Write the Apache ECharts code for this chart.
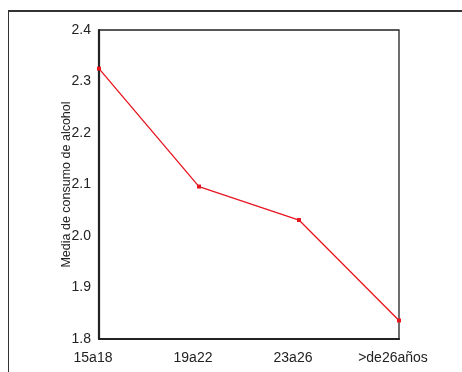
<!DOCTYPE html>
<html><head><meta charset="utf-8">
<script src="https://cdn.jsdelivr.net/npm/echarts@6/dist/echarts.min.js"></script>
<style>html,body{margin:0;padding:0;background:#fff}#c{width:462px;height:372px}</style>
</head><body><div id="c"></div>
<script>
var categories = ['15a18', '19a22', '23a26', '>de26años'];
var values = [2.325, 2.096, 2.031, 1.836];
var yMin = 1.8, yMax = 2.4, yStep = 0.1;

var chart = echarts.init(document.getElementById('c'), null, {renderer: 'canvas'});
var font = 'Liberation Sans, Arial, sans-serif';
chart.setOption({
  animation: false,
  backgroundColor: '#fff',
  grid: {left: 99, right: 63, top: 30, bottom: 33, show: true, borderColor: '#222', borderWidth: 1.3, backgroundColor: 'transparent'},
  graphic: [
    {type: 'line', shape: {x1: 8, y1: 11, x2: 462, y2: 11}, style: {stroke: '#333', lineWidth: 2}, z: -1},
    {type: 'line', shape: {x1: 8.5, y1: 10, x2: 8.5, y2: 372}, style: {stroke: '#333', lineWidth: 1}, z: -1}
  ],
  xAxis: {
    type: 'category', data: categories, boundaryGap: false,
    axisLine: {lineStyle: {color: '#222', width: 2.2}},
    axisTick: {show: false},
    axisLabel: {color: '#222', fontFamily: font, fontSize: 14, margin: 12, interval: 0, padding: [0, 12, 0, 0]},
    splitLine: {show: false}
  },
  yAxis: {
    type: 'value', min: yMin, max: yMax, interval: yStep,
    name: 'Media de consumo de alcohol', nameLocation: 'middle', nameGap: 26, nameMoveOverlap: false,
    nameTextStyle: {color: '#222', fontFamily: font, fontSize: 12.5},
    axisLine: {show: true, lineStyle: {color: '#222', width: 2.2}},
    axisTick: {show: false},
    axisLabel: {color: '#222', fontFamily: font, fontSize: 14, margin: 8, formatter: function(v){return v.toFixed(1);}},
    splitLine: {show: false}
  },
  series: [{
    type: 'line', data: values, symbol: 'rect', symbolSize: 4,
    lineStyle: {color: '#e8141e', width: 1.3},
    itemStyle: {color: '#e8141e'}
  }]
});
</script></body></html>
